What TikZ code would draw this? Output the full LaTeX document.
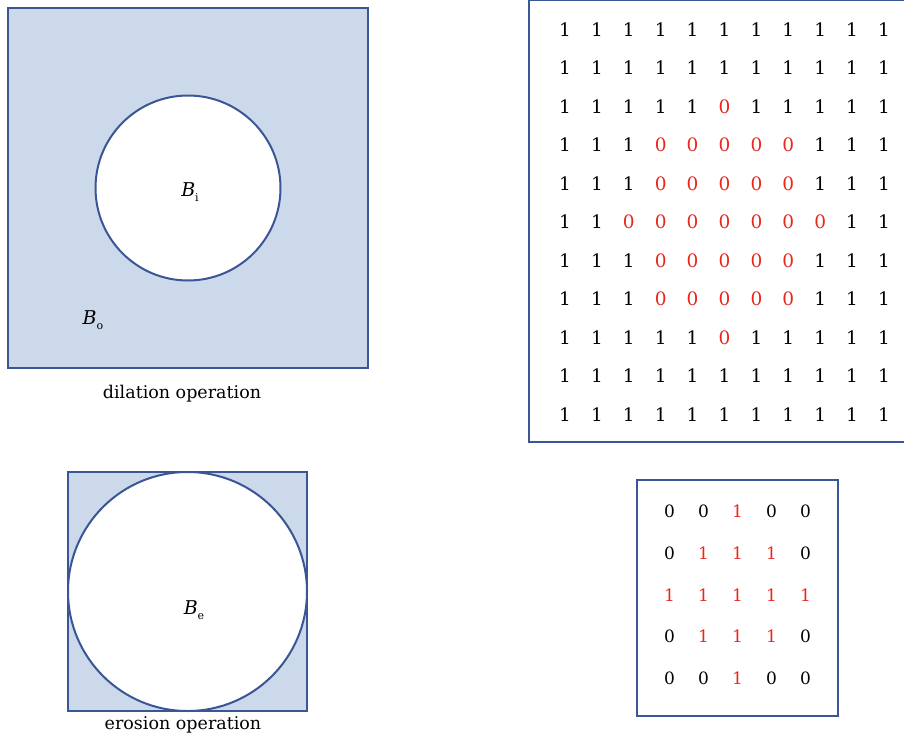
\documentclass[tikz,border=0pt]{standalone}
\usepackage{fontspec}
\setmainfont{DejaVu Serif}
\usepackage{tikz}
\usetikzlibrary{positioning}
\definecolor{frameblue}{RGB}{58,86,150}
\definecolor{fillblue}{RGB}{204,217,234}
\definecolor{digred}{RGB}{232,40,30}
\newcommand{\setname}[1]{\textit{B}\raisebox{-0.45ex}{\fontsize{11}{12}\selectfont #1}}

\begin{document}
\begin{tikzpicture}[
  x=1pt,y=-1pt,
  every node/.style={inner sep=0pt},
  region/.style={draw=frameblue,fill=fillblue,line width=2pt},
  disk/.style={draw=frameblue,fill=white,line width=2pt},
  frame/.style={draw=frameblue,line width=2.2pt},
  caption/.style={font=\fontsize{17.5}{21}\selectfont},
  setlabel/.style={font=\fontsize{19}{22}\selectfont},
  big0/.style={text=digred,font=\fontsize{18.5}{22}\selectfont},
  big1/.style={text=black,font=\fontsize{18.5}{22}\selectfont},
  small0/.style={text=black,font=\fontsize{17}{20}\selectfont},
  small1/.style={text=digred,font=\fontsize{17}{20}\selectfont}
]
\clip (0,0) rectangle (904,736);

\draw[region] (8,8) rectangle (368,368);
\draw[disk] (188,188) circle (92.5);
\node[setlabel] (bi) at (190,192) {\setname{i}};
\node[setlabel] (bo) at (93,320) {\setname{o}};
\node[caption] (dil) at (182,394) {dilation operation};

\draw[region] (68,472) rectangle (307,711);
\draw[disk] (187.5,591.5) circle (119.5);
\node[setlabel] (be) at (194,610) {\setname{e}};
\node[caption] (ero) at (183,725) {erosion operation};

\draw[frame] (529,0) rectangle (910,442);
\foreach \row [count=\i] in {
  {1,1,1,1,1,1,1,1,1,1,1},
  {1,1,1,1,1,1,1,1,1,1,1},
  {1,1,1,1,1,0,1,1,1,1,1},
  {1,1,1,0,0,0,0,0,1,1,1},
  {1,1,1,0,0,0,0,0,1,1,1},
  {1,1,0,0,0,0,0,0,0,1,1},
  {1,1,1,0,0,0,0,0,1,1,1},
  {1,1,1,0,0,0,0,0,1,1,1},
  {1,1,1,1,1,0,1,1,1,1,1},
  {1,1,1,1,1,1,1,1,1,1,1},
  {1,1,1,1,1,1,1,1,1,1,1}}
  \foreach \v [count=\j] in \row
    \node[big\v] (m-\i-\j) at ({565+31.9*(\j-1)},{29.5+38.5*(\i-1)}) {\v};

\draw[frame] (637,480) rectangle (838,716);
\foreach \row [count=\i] in {
  {0,0,1,0,0},
  {0,1,1,1,0},
  {1,1,1,1,1},
  {0,1,1,1,0},
  {0,0,1,0,0}}
  \foreach \v [count=\j] in \row
    \node[small\v] (k-\i-\j) at ({669.5+34*(\j-1)},{511.5+41.6*(\i-1)}) {\v};
\end{tikzpicture}
\end{document}
